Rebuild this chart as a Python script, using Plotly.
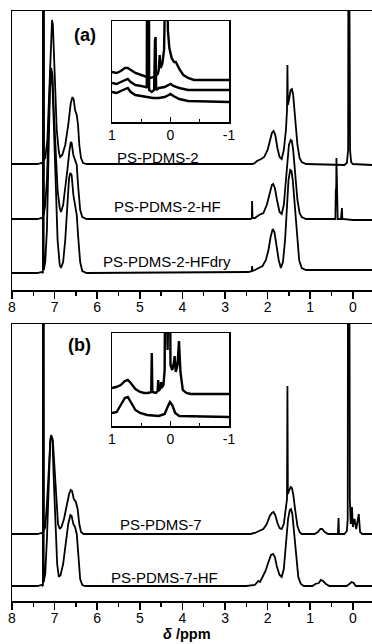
import plotly.graph_objects as go

W, H = 372, 644

# ---------------- data (ppm, intensity above each trace's own baseline, a.u.) ----------------
# Panel (a) main spectra
ppm_a1 = [8.00, 7.60, 7.40, 7.31, 7.285, 7.275, 7.27, 7.26, 7.255, 7.22, 7.17, 7.12, 7.08, 7.06, 7.04, 7.00,
          6.95, 6.90, 6.87, 6.82, 6.75, 6.68, 6.62, 6.58, 6.55, 6.52, 6.48, 6.45, 6.42, 6.38, 6.33, 6.25,
          5.00, 2.35, 2.30, 2.25, 2.15, 2.08, 2.00, 1.95, 1.90, 1.86, 1.82, 1.77, 1.72, 1.67, 1.62, 1.57,
          1.545, 1.535, 1.525, 1.50, 1.46, 1.43, 1.40, 1.35, 1.30, 1.25, 1.20, 1.10, 0.30, 0.20, 0.14, 0.11,
          0.10, 0.075, 0.065, 0.04, 0.00, -0.45]
int_a1 = [0, 0, 0, 1, 0, 0, 400, 400, 4, 6, 24, 84, 134, 144, 139, 94,
          34, 12, 7, 9, 19, 39, 61, 67, 64, 54, 49, 39, 19, 6, 1, 0,
          0, 0, 1, 3, 5, 7, 14, 24, 31, 33, 29, 16, 7, 5, 14, 34,
          54, 99, 59, 64, 74, 75, 69, 44, 19, 6, 2, 0, -1, -1, 1, 14,
          400, 400, 14, 2, 0, -1]

ppm_a2 = [8.00, 7.40, 7.31, 7.285, 7.275, 7.27, 7.26, 7.255, 7.22, 7.18, 7.14, 7.10, 7.08, 7.05, 7.02, 6.98,
          6.93, 6.88, 6.85, 6.80, 6.75, 6.70, 6.65, 6.62, 6.60, 6.56, 6.52, 6.48, 6.45, 6.40, 6.35, 6.25,
          2.40, 2.37, 2.365, 2.355, 2.30, 2.20, 2.10, 2.02, 1.96, 1.90, 1.87, 1.83, 1.78, 1.72, 1.67, 1.62,
          1.58, 1.54, 1.50, 1.46, 1.43, 1.40, 1.35, 1.30, 1.25, 1.20, 1.10, 0.41, 0.40, 0.39, 0.385, 0.375,
          0.365, 0.355, 0.28, 0.265, 0.255, 0.245, 0.00, -0.45]
int_a2 = [0, 0, 1, 0, 0, 400, 400, 4, 14, 39, 99, 149, 151, 144, 109, 69,
          29, 11, 7, 14, 29, 49, 69, 77, 76, 64, 59, 54, 34, 9, 2, 0,
          0, 1, 18, 1, 1, 4, 6, 14, 24, 34, 35, 31, 19, 7, 5, 14,
          34, 59, 74, 79, 78, 69, 44, 19, 6, 2, 0, 0, 29, 31, 61, 29,
          24, 0, 0, 11, 11, 0, -1, -1]

ppm_a3 = [8.00, 7.40, 7.31, 7.285, 7.275, 7.27, 7.26, 7.255, 7.22, 7.18, 7.14, 7.11, 7.08, 7.06, 7.03, 6.98,
          6.93, 6.88, 6.85, 6.80, 6.75, 6.70, 6.66, 6.63, 6.60, 6.56, 6.52, 6.48, 6.45, 6.40, 6.35, 6.25,
          2.45, 2.37, 2.365, 2.355, 2.30, 2.22, 2.12, 2.04, 1.98, 1.93, 1.88, 1.84, 1.79, 1.74, 1.69, 1.64,
          1.59, 1.55, 1.51, 1.47, 1.44, 1.41, 1.36, 1.31, 1.26, 1.20, 1.10, 0.00, -0.45]
int_a3 = [-1, -1, 0, -1, -1, 400, 400, 2, 10, 42, 122, 182, 199, 196, 162, 92,
          32, 7, 4, 10, 32, 67, 94, 99, 97, 77, 67, 57, 37, 10, 1, -1,
          0, 1, 6, 1, 2, 4, 6, 12, 22, 35, 43, 40, 27, 12, 4, 10,
          32, 62, 92, 102, 101, 92, 62, 32, 12, 4, 2, 2, 2]

# Panel (b) main spectra
ppm_b1 = [8.00, 7.40, 7.31, 7.285, 7.275, 7.27, 7.26, 7.255, 7.22, 7.18, 7.14, 7.10, 7.07, 7.04, 7.00, 6.96,
          6.92, 6.88, 6.84, 6.78, 6.72, 6.66, 6.62, 6.59, 6.55, 6.50, 6.46, 6.42, 6.38, 6.32,
          2.40, 2.30, 2.20, 2.10, 2.02, 1.95, 1.90, 1.86, 1.82, 1.77, 1.72, 1.67, 1.62, 1.57, 1.545, 1.535,
          1.525, 1.50, 1.46, 1.43, 1.40, 1.35, 1.30, 1.25, 1.20, 0.90, 0.82, 0.76, 0.72, 0.66, 0.58, 0.35,
          0.335, 0.325, 0.20, 0.14, 0.12, 0.11, 0.085, 0.07, 0.05, 0.02, 0.00, -0.04, -0.08, -0.12, -0.14, -0.17,
          -0.22, -0.45]
int_b1 = [0, 0, 1, 0, 0, 400, 400, 3, 7, 30, 65, 93, 97, 93, 65, 30,
          10, 5, 7, 15, 27, 40, 44, 43, 35, 32, 25, 10, 2, 0,
          0, 1, 3, 5, 10, 18, 21, 22, 19, 11, 6, 5, 10, 25, 35, 148,
          40, 43, 47, 46, 40, 23, 8, 2, 0, 0, 2, 5, 5, 2, 0, 0,
          16, 0, 0, 3, 15, 400, 400, 35, 10, 27, 7, 15, 5, 15, 20, 2,
          0, 0]

ppm_b2 = [8.00, 7.40, 7.31, 7.285, 7.275, 7.27, 7.26, 7.255, 7.22, 7.18, 7.14, 7.10, 7.08, 7.05, 7.02, 6.98,
          6.94, 6.90, 6.86, 6.80, 6.74, 6.68, 6.63, 6.60, 6.56, 6.52, 6.48, 6.44, 6.40, 6.35, 6.28,
          2.50, 2.30, 2.22, 2.18, 2.12, 2.05, 1.98, 1.92, 1.87, 1.83, 1.78, 1.72, 1.67, 1.62, 1.57, 1.52,
          1.48, 1.45, 1.42, 1.38, 1.33, 1.28, 1.22, 1.15, 0.95, 0.88, 0.80, 0.75, 0.70, 0.63, 0.55, 0.15,
          0.08, 0.03, -0.02, -0.07, -0.45]
int_b2 = [0, 0, 1, 0, 0, 400, 400, 4, 12, 47, 107, 147, 151, 147, 107, 57,
          22, 9, 11, 22, 42, 62, 71, 70, 62, 59, 52, 27, 7, 1, 0,
          0, 1, 5, 4, 9, 15, 24, 31, 32, 29, 19, 11, 9, 17, 42, 67,
          76, 77, 72, 52, 27, 9, 2, 0, 0, 2, 3, 6, 5, 2, 0, 0,
          2, 4, 3, 0, 0]

offsets_a = [126, 71, 18]
offsets_b = [67, 15]
labels_a = ["PS-PDMS-2", "PS-PDMS-2-HF", "PS-PDMS-2-HFdry"]
labels_b = ["PS-PDMS-7", "PS-PDMS-7-HF"]

# Inset (a): expanded 1 ... -1 ppm region
ppm_ia1 = [1.00, 0.92, 0.85, 0.78, 0.73, 0.68, 0.60, 0.50, 0.42, 0.35, 0.28, 0.22, 0.20, 0.185, 0.17, 0.14,
           0.11, 0.09, 0.075, 0.06, 0.045, 0.02, -0.02, -0.06, -0.09, -0.12, -0.16, -0.22, -0.30, -0.40, -1.00]
int_ia1 = [8, 7, 9, 12, 12, 10, 7, 5, 3, 2, 3, 6, 10, 25, 12, 16,
           30, 50, 200, 200, 50, 32, 22, 18, 18, 14, 10, 5, 2, 0, 0]
ppm_ia2 = [1.00, 0.92, 0.85, 0.78, 0.73, 0.68, 0.60, 0.50, 0.42, 0.405, 0.40, 0.37, 0.365, 0.32, 0.28, 0.265,
           0.255, 0.245, 0.20, 0.10, 0.03, 0.00, -0.05, -0.15, -0.30, -1.00]
int_ia2 = [7, 6, 8, 10, 11, 8, 5, 4, 3, 2, 200, 200, 0, -2, 0, 50,
           53, 0, 2, 3, 5, 6, 4, 2, 0, 0]
ppm_ia3 = [1.00, 0.92, 0.85, 0.78, 0.73, 0.68, 0.60, 0.50, 0.40, 0.30, 0.20, 0.10, 0.03, 0.00, -0.05, -0.15,
           -0.30, -1.00]
int_ia3 = [10, 9, 11, 13, 14, 10, 7, 6, 5, 4, 4, 5, 7, 8, 6, 3,
           1, 0]
inset_offsets_a = [42, 32, 20]

# Inset (b)
ppm_ib1 = [1.00, 0.93, 0.85, 0.78, 0.73, 0.68, 0.60, 0.52, 0.45, 0.38, 0.33, 0.32, 0.31, 0.25, 0.22, 0.21,
           0.20, 0.17, 0.16, 0.15, 0.12, 0.10, 0.085, 0.065, 0.05, 0.035, 0.015, 0.00, -0.03, -0.06, -0.07, -0.09,
           -0.12, -0.145, -0.17, -0.21, -0.27, -0.35, -1.00]
int_ib1 = [6, 7, 9, 13, 14, 11, 5, 2, 1, 1, 2, 41, 2, 1, 3, 14,
           3, 6, 12, 6, 9, 24, 200, 200, 44, 200, 200, 29, 24, 32, 38, 22,
           29, 53, 22, 4, 1, 0, 0]
ppm_ib2 = [1.00, 0.92, 0.85, 0.78, 0.73, 0.68, 0.60, 0.52, 0.40, 0.20, 0.10, 0.05, 0.01, -0.03, -0.08, -0.15,
           -1.00]
int_ib2 = [4, 5, 12, 19, 20, 15, 7, 4, 2, 1, 3, 10, 15, 12, 4, 1,
           0]
inset_offsets_b = [32, 9]

main_ticks = [8, 7, 6, 5, 4, 3, 2, 1, 0]
inset_ticks = [1, 0, -1]

# ---------------- figure ----------------
FONT = "Liberation Sans, Arial, sans-serif"
BLACK = "#000000"


def yp(px):
    return 1 - px / H


fig = go.Figure()


def add(x, y, off, xa, ya, w):
    fig.add_trace(go.Scatter(x=x, y=[v + off for v in y], mode="lines",
                             line=dict(color=BLACK, width=w), xaxis=xa, yaxis=ya,
                             showlegend=False, hoverinfo="skip"))


for (x, y), off in zip([(ppm_a1, int_a1), (ppm_a2, int_a2), (ppm_a3, int_a3)], offsets_a):
    add(x, y, off, "x", "y", 1.8)
for (x, y), off in zip([(ppm_b1, int_b1), (ppm_b2, int_b2)], offsets_b):
    add(x, y, off, "x2", "y2", 1.8)
for (x, y), off in zip([(ppm_ia1, int_ia1), (ppm_ia2, int_ia2), (ppm_ia3, int_ia3)], inset_offsets_a):
    add(x, y, off, "x3", "y3", 2.4)
for (x, y), off in zip([(ppm_ib1, int_ib1), (ppm_ib2, int_ib2)], inset_offsets_b):
    add(x, y, off, "x4", "y4", 2.4)

main_x = dict(range=[8, -0.45], tickvals=main_ticks, ticktext=[str(t) for t in main_ticks],
              ticks="outside", ticklen=7, tickwidth=1.5, tickcolor=BLACK, ticklabelstandoff=-3,
              minor=dict(dtick=0.5, tick0=0, ticks="outside", ticklen=4, tickwidth=1.5, tickcolor=BLACK),
              showline=True, linecolor=BLACK, linewidth=1.5, mirror=True,
              showgrid=False, zeroline=False, tickfont=dict(family=FONT, size=14, color=BLACK))
main_y = dict(showline=True, linecolor=BLACK, linewidth=1.5, mirror=False, showticklabels=False,
              ticks="", showgrid=False, zeroline=False)
inset_x = dict(range=[1, -1], tickvals=inset_ticks, ticktext=["1", "0", "-1"],
               ticks="inside", ticklen=5, tickwidth=1.2, tickcolor=BLACK,
               minor=dict(dtick=0.5, tick0=0, ticks="inside", ticklen=3, tickwidth=1.2, tickcolor=BLACK),
               showline=True, linecolor=BLACK, linewidth=1.5, mirror=True,
               showgrid=False, zeroline=False, tickfont=dict(family=FONT, size=14, color=BLACK))
inset_y = dict(showline=True, linecolor=BLACK, linewidth=1.5, mirror=True, showticklabels=False,
               ticks="", showgrid=False, zeroline=False)

xd = [12 / W, 1.0]
xin = [112 / W, 229 / W]
fig.update_layout(
    width=W, height=H, margin=dict(l=0, r=0, t=0, b=0, autoexpand=False),
    paper_bgcolor="white", plot_bgcolor="white", showlegend=False,
    xaxis=dict(main_x, domain=xd, anchor="y"),
    yaxis=dict(main_y, domain=[yp(290), yp(11)], range=[0, 279], anchor="x"),
    xaxis2=dict(main_x, domain=xd, anchor="y2"),
    yaxis2=dict(main_y, domain=[yp(601), yp(324)], range=[0, 277], anchor="x2"),
    xaxis3=dict(inset_x, domain=xin, anchor="y3"),
    yaxis3=dict(inset_y, domain=[yp(122), yp(21)], range=[0, 101], anchor="x3"),
    xaxis4=dict(inset_x, domain=xin, anchor="y4"),
    yaxis4=dict(inset_y, domain=[yp(426), yp(333)], range=[0, 93], anchor="x4"),
)

ann = []


def label(text, x, y, xref, yref, size, bold=False):
    ann.append(dict(text=f"<b>{text}</b>" if bold else text, x=x, y=y, xref=xref, yref=yref,
                    showarrow=False, xanchor="center", yanchor="middle",
                    font=dict(family=FONT, size=size, color=BLACK)))


label("(a)", 6.28, 255, "x", "y", 18, bold=True)
for txt, xx, yy in zip(labels_a, [4.57, 4.35, 4.36], [132, 83, 28]):
    label(txt, xx, yy, "x", "y", 15)
label("(b)", 6.42, 256, "x2", "y2", 18, bold=True)
for txt, xx, yy in zip(labels_b, [4.50, 4.43], [77, 24]):
    label(txt, xx, yy, "x2", "y2", 15)
ann.append(dict(text="<b><i>δ</i> /ppm</b>", x=187 / W, y=0, xref="paper", yref="paper",
                showarrow=False, xanchor="center", yanchor="bottom", borderpad=0, yshift=1,
                font=dict(family=FONT, size=14.5, color=BLACK)))
fig.update_layout(annotations=ann)

fig.write_html("out.html", config={"displayModeBar": False, "staticPlot": True},
               post_script="document.body.style.margin='0';document.body.style.padding='0';document.body.style.overflow='hidden';")
